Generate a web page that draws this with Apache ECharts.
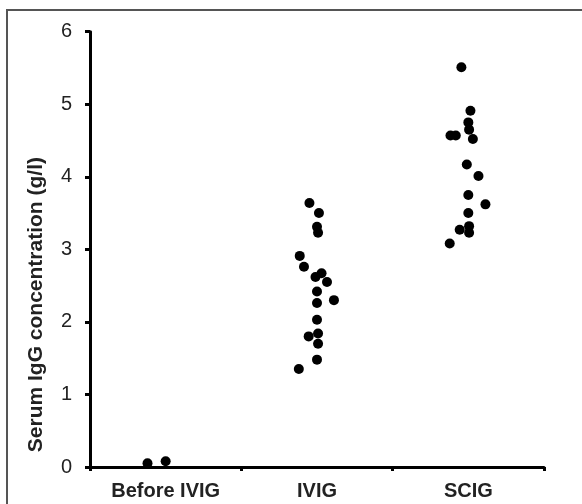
<!DOCTYPE html>
<html>
<head>
<meta charset="utf-8">
<script src="https://cdn.jsdelivr.net/npm/echarts@6/dist/echarts.min.js"></script>
<style>
html,body{margin:0;padding:0;background:#fff;}
#frame{position:absolute;left:6px;top:9px;width:600px;height:520px;border-left:2px solid #555;border-top:2px solid #555;box-sizing:border-box;}
#chart{position:absolute;left:0;top:0;width:582px;height:504px;}
</style>
</head>
<body>
<div id="frame"></div>
<div id="chart"></div>
<script>
// Categories and tick labels
const categories = ['Before IVIG', 'IVIG', 'SCIG'];
const yTicks = [0, 1, 2, 3, 4, 5, 6];

// Serum IgG values (g/l)
const beforeValues = [0.05, 0.08];
const ivigValues = [3.64, 3.50, 3.31, 3.23, 2.91, 2.76, 2.62, 2.67, 2.55, 2.42, 2.30, 2.26, 2.03, 1.80, 1.84, 1.70, 1.48, 1.35];
const scigValues = [5.51, 4.91, 4.75, 4.65, 4.57, 4.57, 4.52, 4.17, 4.01, 3.75, 3.62, 3.50, 3.27, 3.32, 3.23, 3.08];

// Horizontal spread of each dot within its category (category units, as in the picture)
const beforeJitter = [-0.12, 0.0];
const ivigJitter = [-0.05, 0.013, 0, 0.007, -0.114, -0.086, -0.01, 0.03, 0.066, 0, 0.112, 0, 0, -0.055, 0.007, 0.007, 0, -0.12];
const scigJitter = [-0.046, 0.014, 0, 0.005, -0.118, -0.083, 0.03, -0.01, 0.067, 0, 0.113, 0, -0.057, 0.005, 0.005, -0.123];

const groups = [
  [beforeValues, beforeJitter],
  [ivigValues, ivigJitter],
  [scigValues, scigJitter]
];
const points = [];
groups.forEach((g, ci) => {
  g[0].forEach((v, i) => points.push([ci + 0.5 + g[1][i], v]));
});

const chart = echarts.init(document.getElementById('chart'), null, {renderer: 'canvas'});
const axisFont = '"Liberation Sans", Arial, sans-serif';
chart.setOption({
  animation: false,
  backgroundColor: 'transparent',
  grid: {left: 90, right: 38, top: 31.7, bottom: 37},
  xAxis: [
    {
      type: 'category',
      data: categories,
      boundaryGap: true,
      axisLine: {lineStyle: {color: '#000', width: 3}},
      axisTick: {show: true, length: 4, lineStyle: {color: '#000', width: 3}},
      axisLabel: {color: '#222', fontSize: 20, fontWeight: 'bold', fontFamily: axisFont, margin: 14},
      splitLine: {show: false}
    },
    {
      type: 'value', min: 0, max: 3, show: false, position: 'bottom'
    }
  ],
  yAxis: {
    type: 'value',
    min: 0, max: 6, interval: 1,
    axisLine: {show: true, lineStyle: {color: '#000', width: 3}},
    axisTick: {show: true, length: 5, lineStyle: {color: '#000', width: 3}},
    axisLabel: {color: '#222', fontSize: 20, fontFamily: axisFont, margin: 18,
      formatter: v => yTicks.includes(v) ? String(v) : ''},
    splitLine: {show: false}
  },
  graphic: [{
    type: 'text',
    left: 26, top: 157,
    rotation: Math.PI / 2,
    style: {
      text: 'Serum IgG concentration (g/l)',
      fill: '#222',
      font: 'bold 21px "Liberation Sans", Arial, sans-serif'
    }
  }],
  series: [{
    type: 'scatter',
    xAxisIndex: 1,
    data: points,
    symbol: 'circle',
    symbolSize: 10,
    itemStyle: {color: '#000', opacity: 1}
  }]
});
</script>
</body>
</html>
